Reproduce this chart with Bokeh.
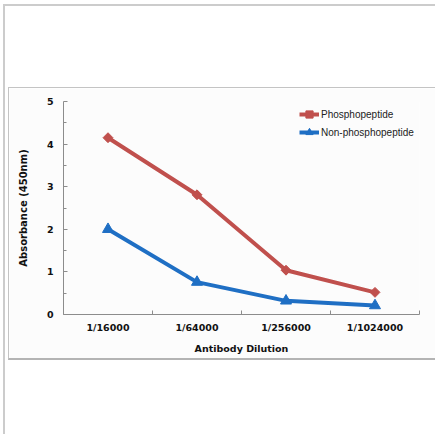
import math
from bokeh.plotting import figure
from bokeh.layouts import column, row
from bokeh.models import Range1d, FixedTicker, Legend, LegendItem, Spacer
from bokeh.embed import file_html
from bokeh.resources import INLINE

# ---- data ----
dilutions = ["1/16000", "1/64000", "1/256000", "1/1024000"]
phosphopeptide = [4.15, 2.81, 1.04, 0.52]
non_phosphopeptide = [2.0, 0.76, 0.32, 0.21]
y_ticks = [0, 1, 2, 3, 4, 5]
series_names = ["Phosphopeptide", "Non-phosphopeptide"]
x_title = "Antibody Dilution"
y_title = "Absorbance (450nm)"

RED = "#c0504d"
BLUE = "#1f6fc4"
AXIS = "#8c8c8c"
BOLD_FONT = "DejaVu Sans"

xs = [i + 0.5 for i in range(len(dilutions))]

p = figure(width=427, height=273, output_backend="svg", toolbar_location=None,
           x_range=Range1d(0, len(dilutions)), y_range=Range1d(y_ticks[0], y_ticks[-1]),
           min_border_left=54, min_border_right=17, min_border_top=13, min_border_bottom=47)
p.background_fill_color = "#fcfcfc"
p.border_fill_color = "#fcfcfc"
p.outline_line_color = None
p.xgrid.visible = False
p.ygrid.visible = False
p.styles = {"border-top": "1px solid #c4c4c4", "border-left": "1px solid #c4c4c4",
            "border-bottom": "2px solid #b4b4b4"}

r1 = p.line(xs, phosphopeptide, line_color=RED, line_width=4)
s1 = p.scatter(xs, phosphopeptide, marker="square", size=7, angle=math.pi / 4,
               fill_color=RED, line_color=RED)
r2 = p.line(xs, non_phosphopeptide, line_color=BLUE, line_width=4)
s2 = p.scatter(xs, non_phosphopeptide, marker="triangle", size=11,
               fill_color=BLUE, line_color=BLUE)

legend = Legend(items=[LegendItem(label=series_names[0], renderers=[r1, s1]),
                       LegendItem(label=series_names[1], renderers=[r2, s2])],
                location=(236, 173))
legend.border_line_color = None
legend.background_fill_alpha = 0
legend.padding = 0
legend.spacing = 0
legend.margin = 0
legend.glyph_width = 20
legend.glyph_height = 18
legend.label_height = 18
legend.label_standoff = 2
legend.label_text_font = "Liberation Sans"
legend.label_text_font_size = "10px"
legend.label_text_color = "#222222"
p.add_layout(legend)

# y axis
ya = p.yaxis[0]
ya.ticker = FixedTicker(ticks=y_ticks, minor_ticks=[t + 0.5 for t in y_ticks[:-1]])
ya.axis_line_color = AXIS
ya.major_tick_line_color = AXIS
ya.minor_tick_line_color = AXIS
ya.major_tick_in = 4
ya.major_tick_out = 0
ya.minor_tick_in = 3
ya.minor_tick_out = 0
ya.major_label_text_font = BOLD_FONT
ya.major_label_text_font_style = "bold"
ya.major_label_text_font_size = "9.5px"
ya.major_label_text_color = "#111111"
ya.major_label_standoff = 10
ya.axis_label = y_title
ya.axis_label_text_font = BOLD_FONT
ya.axis_label_text_font_style = "bold"
ya.axis_label_text_font_size = "10px"
ya.axis_label_text_color = "#111111"
ya.axis_label_standoff = 15

# x axis
xa = p.xaxis[0]
xa.ticker = FixedTicker(ticks=xs, minor_ticks=list(range(len(dilutions) + 1)))
xa.major_label_overrides = {x: d for x, d in zip(xs, dilutions)}
xa.axis_line_color = AXIS
xa.major_tick_line_color = AXIS
xa.minor_tick_line_color = AXIS
xa.major_tick_in = 0
xa.major_tick_out = 0
xa.minor_tick_in = 4
xa.minor_tick_out = 0
xa.major_label_text_font = BOLD_FONT
xa.major_label_text_font_style = "bold"
xa.major_label_text_font_size = "9.5px"
xa.major_label_text_color = "#111111"
xa.major_label_standoff = 7
xa.axis_label = x_title
xa.axis_label_text_font = BOLD_FONT
xa.axis_label_text_font_style = "bold"
xa.axis_label_text_font_size = "9.5px"
xa.axis_label_text_color = "#111111"
xa.axis_label_standoff = 7

inner = column(Spacer(height=81), row(Spacer(width=3), p), Spacer(height=74),
               styles={"border-top": "2px solid #cccccc", "border-left": "2px solid #cccccc"})
layout = column(Spacer(height=4), row(Spacer(width=3), inner))

open("out.html", "w").write(file_html(layout, INLINE))
